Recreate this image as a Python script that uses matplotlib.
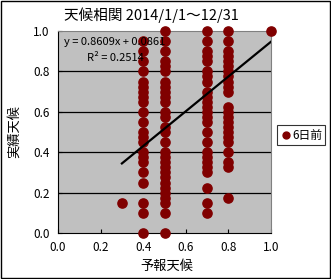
import numpy as np
import matplotlib
matplotlib.use('Agg')
import matplotlib.pyplot as plt
from matplotlib.ticker import FormatStrFormatter
from matplotlib.patches import Rectangle

plt.rcParams['font.family'] = ['Noto Sans CJK JP', 'DejaVu Sans']

x_03 = [0.15]
x_04 = [0.95, 0.9, 0.85, 0.8, 0.75, 0.725, 0.7, 0.675, 0.65, 0.6, 0.55, 0.5, 0.475,
        0.45, 0.4, 0.375, 0.35, 0.3, 0.25, 0.15, 0.1, 0.0]
x_05 = [1.0, 0.95, 0.9, 0.85, 0.825, 0.8, 0.75, 0.725, 0.7, 0.675, 0.65, 0.6, 0.575,
        0.525, 0.5, 0.45, 0.4, 0.375, 0.35, 0.325, 0.3, 0.275, 0.25, 0.225, 0.2,
        0.175, 0.15, 0.1, 0.0]
x_07 = [1.0, 0.95, 0.9, 0.875, 0.85, 0.8, 0.775, 0.75, 0.7, 0.675, 0.65, 0.625, 0.6,
        0.575, 0.55, 0.5, 0.45, 0.4, 0.375, 0.35, 0.325, 0.3, 0.225, 0.15, 0.1]
x_08 = [1.0, 0.95, 0.9, 0.875, 0.85, 0.825, 0.8, 0.775, 0.75, 0.725, 0.7, 0.625, 0.6,
        0.575, 0.55, 0.525, 0.5, 0.475, 0.45, 0.4, 0.35, 0.325, 0.175]
x_10 = [1.0]

columns = {0.3: x_03, 0.4: x_04, 0.5: x_05, 0.7: x_07, 0.8: x_08, 1.0: x_10}
forecast = []
actual = []
for k, vals in columns.items():
    forecast += [k] * len(vals)
    actual += vals

slope, intercept, r2 = 0.8609, 0.0861, 0.2514

fig = plt.figure(figsize=(3.31, 2.79), dpi=100)
ax = fig.add_axes([58 / 331, 1 - 233 / 279, 213 / 331, 202 / 279])
ax.set_facecolor('#c0c0c0')

for y in [0.2, 0.4, 0.6, 0.8]:
    ax.axhline(y, color='black', lw=0.9, zorder=1)

ax.scatter(forecast, actual, s=44, color='#800000', zorder=3, clip_on=False,
           label='6日前')

xs = np.array([min(forecast), max(forecast)])
ax.plot(xs, slope * xs + intercept, color='black', lw=1.6, zorder=4)

ax.text(0.028, 0.945, 'y = 0.8609x + 0.0861', fontsize=8, va='center', zorder=5)
ax.text(0.136, 0.866, 'R² = 0.2514', fontsize=8, va='center', zorder=5)

ax.set_xlim(0, 1)
ax.set_ylim(0, 1)
ax.set_xticks(np.arange(0, 1.01, 0.2))
ax.set_yticks(np.arange(0, 1.01, 0.2))
ax.xaxis.set_major_formatter(FormatStrFormatter('%.1f'))
ax.yaxis.set_major_formatter(FormatStrFormatter('%.1f'))
ax.tick_params(direction='in', length=3, labelsize=8.5, pad=6)
for s in ['top', 'right']:
    ax.spines[s].set_color('#808080')
for s in ['left', 'bottom']:
    ax.spines[s].set_color('black')

fig.text(151 / 331, 1 - 15 / 279, '天候相関 2014/1/1～12/31', fontsize=10.5,
         ha='center', va='center')
fig.text(167 / 331, 1 - 266 / 279, '予報天候', fontsize=9.5, ha='center', va='center')
fig.text(14 / 331, 1 - 132 / 279, '実績天候', fontsize=9.5, ha='center', va='center',
         rotation=90)

leg = fig.legend(loc='center', bbox_to_anchor=(301 / 331, 1 - 135 / 279),
                 fontsize=8.5, frameon=True, fancybox=False, handletextpad=0.0,
                 borderpad=0.3, borderaxespad=0, handlelength=1.0, markerscale=0.75)
leg.get_frame().set_edgecolor('black')
leg.get_frame().set_linewidth(0.8)

fig.patches.append(Rectangle((0.002, 0.002), 0.995, 0.994, transform=fig.transFigure,
                             fill=False, edgecolor='black', lw=1))

fig.savefig('out.png', dpi=100)
